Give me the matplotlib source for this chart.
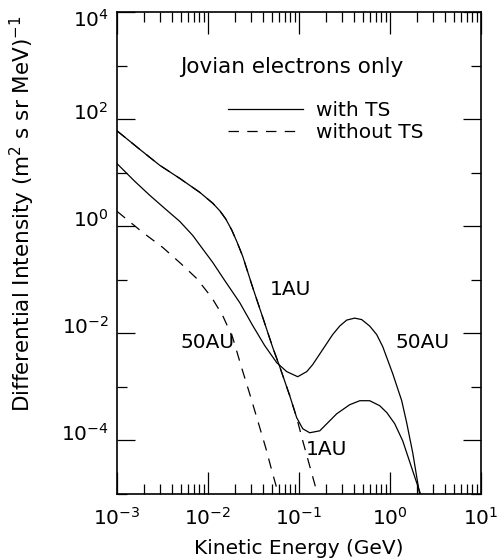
import numpy as np
import matplotlib
matplotlib.use("Agg")
import matplotlib.pyplot as plt
from matplotlib.ticker import FixedLocator, NullFormatter
from matplotlib.lines import Line2D
from matplotlib.transforms import ScaledTranslation

# ---------------- data ----------------
energy_1au_ts = [1.0e-3, 1.77e-3, 2.94e-3, 4.88e-3, 8.11e-3, 1.13e-2, 1.35e-2, 1.565e-2,
                 1.82e-2, 2.07e-2, 2.41e-2, 3.10e-2, 4.0e-2, 5.15e-2, 6.14e-2, 7.91e-2,
                 9.44e-2, 0.110, 0.131, 0.169, 0.260, 0.361, 0.466, 0.598, 0.771, 0.925,
                 1.127, 1.38, 1.689, 1.966, 2.34]
flux_1au_ts = [61, 27.7, 13.9, 7.9, 4.33, 2.70, 1.95, 1.38,
               0.86, 0.524, 0.274, 0.072, 1.98e-2, 5.42e-3, 2.39e-3, 6.84e-4,
               2.65e-4, 1.65e-4, 1.39e-4, 1.51e-4, 3.15e-4, 4.65e-4, 5.52e-4, 5.52e-4,
               4.45e-4, 3.29e-4, 2.05e-4, 9.8e-5, 3.49e-5, 1.61e-5, 6.8e-6]

energy_50au_ts = [1.0e-3, 1.565e-3, 2.29e-3, 3.34e-3, 4.89e-3, 6.79e-3, 8.11e-3, 1.127e-2,
                  1.526e-2, 2.23e-2, 3.10e-2, 4.20e-2, 5.69e-2, 7.33e-2, 9.68e-2, 0.1216,
                  0.1414, 0.1914, 0.2344, 0.280, 0.334, 0.409, 0.489, 0.598, 0.714, 0.832,
                  1.071, 1.345, 1.525, 1.778, 2.12]
flux_50au_ts = [14.9, 6.96, 3.81, 2.17, 1.24, 0.678, 0.45, 0.212,
                9.75e-2, 3.77e-2, 1.40e-2, 5.91e-3, 2.84e-3, 1.93e-3, 1.55e-3, 1.93e-3,
                2.61e-3, 5.66e-3, 9.5e-3, 1.37e-2, 1.77e-2, 1.93e-2, 1.81e-2, 1.37e-2,
                9.5e-3, 5.66e-3, 1.77e-3, 5.52e-4, 2.14e-4, 5.86e-5, 9.6e-6]

energy_50au_nots = [1.0e-3, 1.915e-3, 3.18e-3, 5.01e-3, 7.52e-3, 1.098e-2, 1.450e-2,
                    1.868e-2, 2.34e-2, 2.87e-2, 3.52e-2, 4.31e-2, 5.14e-2, 5.98e-2]
flux_50au_nots = [1.91, 0.772, 0.404, 0.203, 0.106, 4.68e-2, 2.15e-2,
                  8.34e-3, 2.29e-3, 7.46e-4, 2.33e-4, 7.27e-5, 2.37e-5, 9.6e-6]

energy_1au_nots = [1.0e-3, 1.77e-3, 2.94e-3, 4.88e-3, 8.11e-3, 1.13e-2, 1.35e-2, 1.565e-2,
                   1.82e-2, 2.07e-2, 2.41e-2, 3.10e-2, 4.0e-2, 5.15e-2, 6.14e-2, 7.91e-2,
                   9.44e-2, 0.110, 0.131, 0.1605]
flux_1au_nots = [61, 27.7, 13.9, 7.9, 4.33, 2.70, 1.95, 1.38,
                 0.86, 0.524, 0.274, 0.072, 1.98e-2, 5.42e-3, 2.39e-3, 6.84e-4,
                 2.65e-4, 9.8e-5, 3.34e-5, 9.6e-6]

x_ticks = [1e-3, 1e-2, 1e-1, 1e0, 1e1]
x_tick_labels = [r"$10^{-3}$", r"$10^{-2}$", r"$10^{-1}$", r"$10^{0}$", r"$10^{1}$"]
y_ticks = [1e-4, 1e-2, 1e0, 1e2, 1e4]
y_tick_labels = [r"$10^{-4}$", r"$10^{-2}$", r"$10^{0}$", r"$10^{2}$", r"$10^{4}$"]
y_minor_ticks = [1e-5, 1e-3, 1e-1, 1e1, 1e3]

legend_labels = ["with TS", "without TS"]

# ---------------- style ----------------
plt.rcParams["font.family"] = ["DejaVu Sans"]
plt.rcParams["mathtext.default"] = "regular"
plt.rcParams["lines.scale_dashes"] = False
FS = 14.5

fig = plt.figure(figsize=(5.0, 5.6), dpi=100)
ax = fig.add_axes([0.234, 0.118, 0.728, 0.860])

lw = 0.9
dash = (0, (7.5, 6.0))
ax.plot(energy_1au_ts, flux_1au_ts, color="black", lw=lw)
ax.plot(energy_50au_ts, flux_50au_ts, color="black", lw=lw)
ax.plot(energy_50au_nots, flux_50au_nots, color="black", lw=lw, linestyle=dash)
ax.plot(energy_1au_nots, flux_1au_nots, color="black", lw=lw, linestyle=dash)

ax.set_xscale("log")
ax.set_yscale("log")
ax.set_xlim(1e-3, 1e1)
ax.set_ylim(1e-5, 1e4)

ax.xaxis.set_major_locator(FixedLocator(x_ticks))
ax.set_xticklabels(x_tick_labels, fontsize=FS)
minor_x = [m * d for d in [1e-3, 1e-2, 1e-1, 1e0] for m in range(2, 10)]
ax.xaxis.set_minor_locator(FixedLocator(minor_x))
ax.xaxis.set_minor_formatter(NullFormatter())

ax.yaxis.set_major_locator(FixedLocator(y_ticks))
ax.set_yticklabels(y_tick_labels, fontsize=FS)
ax.yaxis.set_minor_locator(FixedLocator(y_minor_ticks))
ax.yaxis.set_minor_formatter(NullFormatter())

ax.tick_params(axis="both", which="both", direction="in", top=True, right=True,
               width=0.9, colors="black")
ax.tick_params(axis="x", which="major", length=15.5, pad=9.5)
ax.tick_params(axis="x", which="minor", length=7.2)
ax.tick_params(axis="y", which="major", length=13, pad=6)
ax.tick_params(axis="y", which="minor", length=7.2)
ylabs = ax.get_yticklabels()
for lab in ylabs:
    lab.set_verticalalignment("baseline")
# top label sits a little lower in the reference so that it stays inside
ylabs[-1].set_transform(ylabs[-1].get_transform()
                        + ScaledTranslation(0, -0.14, fig.dpi_scale_trans))

for s in ax.spines.values():
    s.set_linewidth(1.2)

ax.set_xlabel("Kinetic Energy (GeV)", fontsize=FS, labelpad=7)
ax.set_ylabel(r"Differential Intensity (m$^{2}$ s sr MeV)$^{-1}$", fontsize=15.5,
              va="center")
ax.yaxis.set_label_coords(-0.259, 0.582)

ax.text(0.481, 0.887, "Jovian electrons only", transform=ax.transAxes,
        ha="center", va="center", fontsize=15.5)
ax.text(0.478, 0.424, "1AU", transform=ax.transAxes, ha="center", va="center", fontsize=FS)
ax.text(0.248, 0.3135, "50AU", transform=ax.transAxes, ha="center", va="center", fontsize=FS)
ax.text(0.839, 0.3135, "50AU", transform=ax.transAxes, ha="center", va="center", fontsize=FS)
ax.text(0.575, 0.0914, "1AU", transform=ax.transAxes, ha="center", va="center", fontsize=FS)

handles = [Line2D([], [], color="black", lw=lw),
           Line2D([], [], color="black", lw=lw, linestyle=dash)]
ax.legend(handles, legend_labels, loc="upper left", bbox_to_anchor=(0.305, 0.815),
          frameon=False, fontsize=FS, handlelength=3.7, handletextpad=0.65,
          labelspacing=0.12, borderpad=0, borderaxespad=0)

fig.savefig("out.png", dpi=100)
